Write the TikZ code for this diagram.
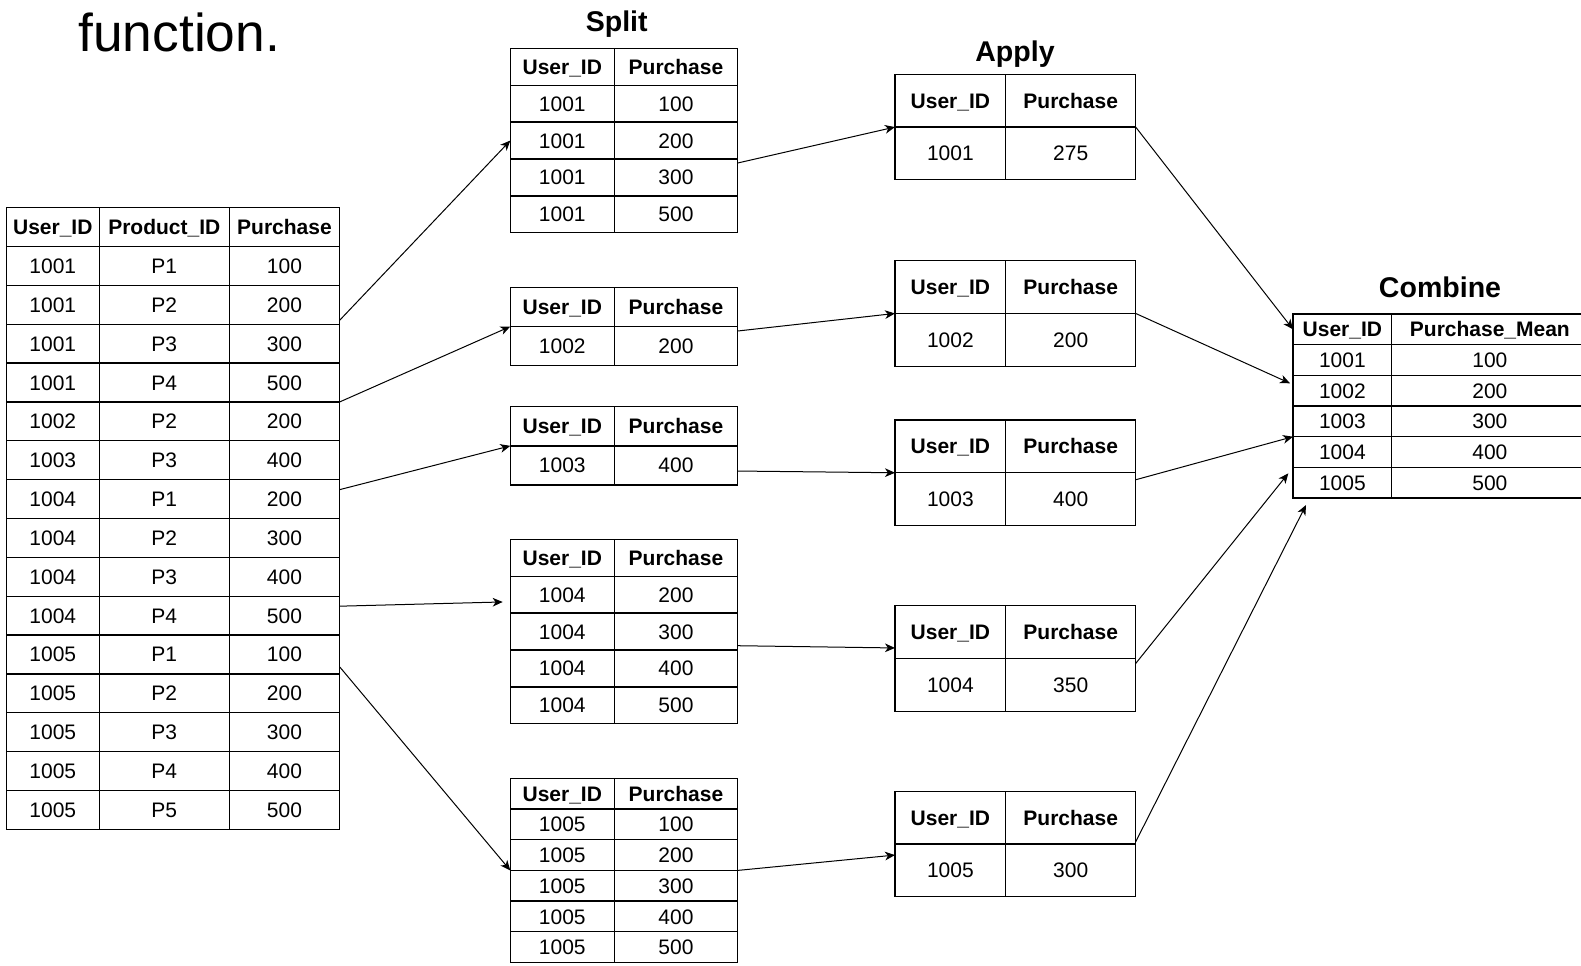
\documentclass[tikz,border=0pt]{standalone}
\usepackage{fontspec}
\setmainfont{Liberation Sans}
\usetikzlibrary{arrows.meta,calc}

\tikzset{every picture/.style={line width=0.75pt}}
\tikzset{
  cell/.style={inner sep=0pt, outer sep=0pt, text height=11.3pt, text depth=0pt, font=\fontsize{15.75}{18}\selectfont},
  head/.style={cell, font=\fontsize{15.75}{18}\selectfont\bfseries},
  grid/.style={line width=1pt},
  title/.style={anchor=base, inner sep=0pt, font=\fontsize{21.4}{25}\selectfont\bfseries},
  flow/.style={-{Stealth[length=7.5pt,width=6.5pt,inset=2.2pt]}, line width=0.75pt},
  % column widths of the tables
  srcrow/.style={minimum height=29.14pt},
  srcA/.style={srcrow, minimum width=69.75pt},
  srcB/.style={srcrow, minimum width=97.5pt},
  srcC/.style={srcrow, minimum width=82.8pt},
  splitL/.style={minimum width=78pt}, splitR/.style={minimum width=92.55pt},
  applyL/.style={minimum width=83.03pt}, applyR/.style={minimum width=97.5pt},
  combL/.style={minimum width=74.03pt}, combR/.style={minimum width=147.23pt}
}

% two column table: name, kind, column centres, top, row height, right header, rows
\newcommand{\pairtable}[8]{%
  \node[head, #2L, minimum height=#6*0.75pt] (#1-0-1) at ({#3}, {#5+#6/2}) {User\_ID};
  \node[head, #2R, minimum height=#6*0.75pt] (#1-0-2) at ({#4}, {#5+#6/2}) {#7};
  \foreach \uid/\amt [count=\i] in {#8} {
    \node[cell, #2L, minimum height=#6*0.75pt] (#1-\i-1) at ({#3}, {#5+#6*(\i+0.5)}) {\uid};
    \node[cell, #2R, minimum height=#6*0.75pt] (#1-\i-2) at ({#4}, {#5+#6*(\i+0.5)}) {\amt};
  }
  % borders in one path so shared edges are stroked once
  \draw[grid] (#1-0-1.north west) rectangle (#1-0-1.south east) (#1-0-2.north west) rectangle (#1-0-2.south east)
    \foreach \uid/\amt [count=\i] in {#8} {
      (#1-\i-1.north west) rectangle (#1-\i-1.south east) (#1-\i-2.north west) rectangle (#1-\i-2.south east)
    };
}

\begin{document}
\begin{tikzpicture}[x=0.75pt,y=0.75pt,yscale=-1,xscale=1]
	\useasboundingbox (0,0) rectangle (1581,965);

	% Text Node
	\node[anchor=base west, inner sep=0pt, font=\fontsize{40}{48}\selectfont] (caption) at (78,51.7) {function.};

	% source table
	\node[head, srcA] (src-0-1) at (52.8,227.1) {User\_ID};
	\node[head, srcB] (src-0-2) at (164.3,227.1) {Product\_ID};
	\node[head, srcC] (src-0-3) at (284.5,227.1) {Purchase};
	\foreach \uid/\prod/\amt [count=\i] in {1001/P1/100, 1001/P2/200, 1001/P3/300, 1001/P4/500, 1002/P2/200,
	    1003/P3/400, 1004/P1/200, 1004/P2/300, 1004/P3/400, 1004/P4/500,
	    1005/P1/100, 1005/P2/200, 1005/P3/300, 1005/P4/400, 1005/P5/500} {
	  \node[cell, srcA] (src-\i-1) at (52.8, {227.1+38.85*\i}) {\uid};
	  \node[cell, srcB] (src-\i-2) at (164.3, {227.1+38.85*\i}) {\prod};
	  \node[cell, srcC] (src-\i-3) at (284.5, {227.1+38.85*\i}) {\amt};
	}
	\draw[grid] \foreach \i in {0,...,15} {
	    (src-\i-1.north west) rectangle (src-\i-1.south east)
	    (src-\i-2.north west) rectangle (src-\i-2.south east)
	    (src-\i-3.north west) rectangle (src-\i-3.south east)
	  };

	% Split
	\node[title] (splitTitle) at (616.7,31.7) {Split};
	\pairtable{split1}{split}{562.3}{676}{48.3}{36.9}{Purchase}{1001/100,1001/200,1001/300,1001/500}
	\pairtable{split2}{split}{562.3}{676}{287.3}{39.2}{Purchase}{1002/200}
	\pairtable{split3}{split}{562.3}{676}{406.7}{39.15}{Purchase}{1003/400}
	\pairtable{split4}{split}{562.3}{676}{539.3}{36.9}{Purchase}{1004/200,1004/300,1004/400,1004/500}
	\pairtable{split5}{split}{562.3}{676}{778.3}{30.7}{Purchase}{1005/100,1005/200,1005/300,1005/400,1005/500}

	% Apply
	\node[title] (applyTitle) at (1015,61.7) {Apply};
	\pairtable{apply1}{apply}{950.35}{1070.7}{74.3}{52.75}{Purchase}{1001/275}
	\pairtable{apply2}{apply}{950.35}{1070.7}{260.7}{52.75}{Purchase}{1002/200}
	\pairtable{apply3}{apply}{950.35}{1070.7}{420}{52.75}{Purchase}{1003/400}
	\pairtable{apply4}{apply}{950.35}{1070.7}{605.7}{52.75}{Purchase}{1004/350}
	\pairtable{apply5}{apply}{950.35}{1070.7}{791.3}{52.75}{Purchase}{1005/300}

	% Combine
	\node[title] (combTitle) at (1440,297.3) {Combine};
	\pairtable{comb}{comb}{1342.35}{1489.85}{314}{30.67}{Purchase\_Mean}{1001/100,1002/200,1003/300,1004/400,1005/500}

	% source -> split
	\draw[flow] ($(src-2-3.south east)+(0,-4)$) -- (split1-2-1.west);
	\draw[flow] (src-4-3.south east) -- (split2-0-1.south west);
	\draw[flow] ($(src-7-3.north east)+(0,10)$) -- (split3-0-1.south west);
	\draw[flow] ($(src-10-3.north east)+(0,10)$) -- ($(split4-1-1.west)+(-7.6,7.3)$);
	\draw[flow] ($(src-11-3.south east)+(0,-7)$) -- (split5-2-1.south west);

	% split -> apply
	\draw[flow] ($(split1-3-2.north east)+(0,4)$) -- (apply1-0-1.south west);
	\draw[flow] ($(split2-1-2.north east)+(0,4.5)$) -- (apply2-0-1.south west);
	\draw[flow] ($(split3-1-2.east)+(0,5.6)$) -- (apply3-0-1.south west);
	\draw[flow] ($(split4-2-2.south east)+(0,-4.3)$) -- ($(apply4-0-1.south west)+(0,-10.5)$);
	\draw[flow] (split5-2-2.south east) -- ($(apply5-0-1.south west)+(0,11)$);

	% apply -> combine
	\draw[flow] (apply1-0-2.south east) -- (comb-0-1.west);
	\draw[flow] (apply2-0-2.south east) -- ($(comb-2-1.west)+(-3,-7.4)$);
	\draw[flow] ($(apply3-1-2.north east)+(0,7)$) -- (comb-3-1.south west);
	\draw[flow] ($(apply4-0-2.south east)+(0,5)$) -- ($(comb-5-1.north west)+(-4.7,6)$);
	\draw[flow] ($(apply5-0-2.south east)+(0,-2.3)$) -- ($(comb-5-1.south west)+(13,7)$);

\end{tikzpicture}
\end{document}
